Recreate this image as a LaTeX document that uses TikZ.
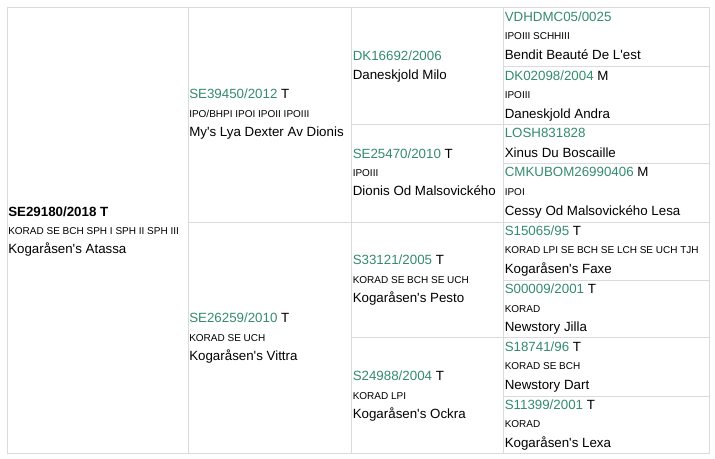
\documentclass[tikz,border=0pt]{standalone}
\usepackage{fontspec}
\setmainfont{Liberation Sans}
\definecolor{idgreen}{RGB}{52,140,108}
\definecolor{gridgray}{RGB}{218,218,218}
\newcommand\idg[1]{\textcolor{idgreen}{#1}}
\newcommand\ap{\textquotesingle}
% three-line entry: #1 node prefix, #2 x, #3 id baseline, #4 title baseline, #5 name baseline, #6 id line, #7 titles, #8 dog name
\newcommand\pedthree[8]{%
  \node[idtxt] (#1id) at (#2,#3) {#6};
  \node[ttltxt] (#1tl) at (#2,#4) {#7};
  \node[idtxt] (#1nm) at (#2,#5) {#8};}
\begin{document}
\begin{tikzpicture}[x=0.75pt,y=-0.75pt,
  idtxt/.style={anchor=base west,inner sep=0pt,font=\fontsize{10}{12}\selectfont},
  ttltxt/.style={anchor=base west,inner sep=0pt,font=\fontsize{7.5}{9}\selectfont},
  gridline/.style={draw=gridgray,line width=0.75pt}]
\fill[white] (0,0) rectangle (715,458);
\useasboundingbox (0,0) rectangle (715,458);
% grid
\draw[gridline] (7,7) rectangle (709,453);
\draw[gridline] (188,7) -- (188,453);
\draw[gridline] (351,7) -- (351,453);
\draw[gridline] (503,7) -- (503,453);
\draw[gridline] (188,222) -- (709,222);
\draw[gridline] (351,124) -- (709,124);
\draw[gridline] (351,337) -- (709,337);
\draw[gridline] (503,66) -- (709,66);
\draw[gridline] (503,163) -- (709,163);
\draw[gridline] (503,280) -- (709,280);
\draw[gridline] (503,396) -- (709,396);
% column 1
\pedthree{a}{8}{216}{234.5}{253.5}{\textbf{SE29180/2018 T}}{KORAD SE BCH SPH I SPH II SPH III}{Kogaråsen\ap s Atassa}
% column 2
\pedthree{b1}{189}{98.5}{117.5}{136}{\idg{SE39450/2012} T}{IPO/BHPI IPOI IPOII IPOIII}{My\ap s Lya Dexter Av Dionis}
\pedthree{b2}{189}{322}{341}{360}{\idg{SE26259/2010} T}{KORAD SE UCH}{Kogaråsen\ap s Vittra}
% column 3
\node[idtxt] (c1id) at (352.5,60.5) {\idg{DK16692/2006}};
\node[idtxt] (c1nm) at (352.5,79.5) {Daneskjold Milo};
\pedthree{c2}{352.5}{158}{176.5}{195}{\idg{SE25470/2010} T}{IPOIII}{Dionis Od Malsovického}
\pedthree{c3}{352.5}{264.5}{283}{302.5}{\idg{S33121/2005} T}{KORAD SE BCH SE UCH}{Kogaråsen\ap s Pesto}
\pedthree{c4}{352.5}{380.5}{399}{418.5}{\idg{S24988/2004} T}{KORAD LPI}{Kogaråsen\ap s Ockra}
% column 4
\pedthree{d1}{504.5}{21.5}{39.5}{59.5}{\idg{VDHDMC05/0025}}{IPOIII SCHHIII}{Bendit Beauté De L\ap est}
\pedthree{d2}{504.5}{80}{98.5}{118.5}{\idg{DK02098/2004} M}{IPOIII}{Daneskjold Andra}
\node[idtxt] (d3id) at (504.5,137.5) {\idg{LOSH831828}};
\node[idtxt] (d3nm) at (504.5,157.5) {Xinus Du Boscaille};
\pedthree{d4}{504.5}{176.5}{195}{215}{\idg{CMKUBOM26990406} M}{IPOI}{Cessy Od Malsovického Lesa}
\pedthree{d5}{504.5}{235.5}{253.5}{273.5}{\idg{S15065/95} T}{KORAD LPI SE BCH SE LCH SE UCH TJH}{Kogaråsen\ap s Faxe}
\pedthree{d6}{504.5}{293.5}{312}{331.5}{\idg{S00009/2001} T}{KORAD}{Newstory Jilla}
\pedthree{d7}{504.5}{351}{369.5}{389.5}{\idg{S18741/96} T}{KORAD SE BCH}{Newstory Dart}
\pedthree{d8}{504.5}{409.5}{427.5}{447.5}{\idg{S11399/2001} T}{KORAD}{Kogaråsen\ap s Lexa}
\end{tikzpicture}
\end{document}
